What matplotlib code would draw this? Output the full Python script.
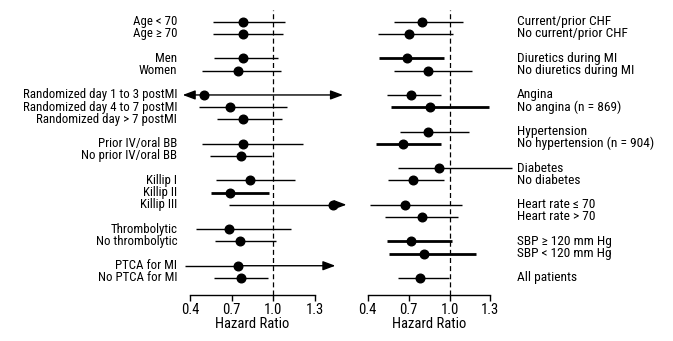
import matplotlib.pyplot as plt
from matplotlib.transforms import blended_transform_factory

plt.rcParams['font.family'] = ['Roboto Condensed', 'DejaVu Sans']

# left panel
left_groups = [
    ["Age < 70", "Age ≥ 70"],
    ["Men", "Women"],
    ["Randomized day 1 to 3 postMI", "Randomized day 4 to 7 postMI", "Randomized day > 7 postMI"],
    ["Prior IV/oral BB", "No prior IV/oral BB"],
    ["Killip I", "Killip II", "Killip III"],
    ["Thrombolytic", "No thrombolytic"],
    ["PTCA for MI", "No PTCA for MI"],
]
left_hr = [0.78, 0.785, 0.78, 0.75, 0.50, 0.69, 0.78, 0.78, 0.77, 0.83, 0.69, 1.43, 0.68, 0.76, 0.75, 0.77]
left_lo = [0.563, 0.563, 0.576, 0.487, 0.347, 0.465, 0.598, 0.487, 0.545, 0.590, 0.552, 0.684, 0.446, 0.581, 0.366, 0.573]
left_hi = [1.083, 1.074, 1.037, 1.055, 1.505, 1.103, 1.063, 1.214, 0.991, 1.156, 0.969, 1.53, 1.127, 1.019, 1.45, 0.966]
left_thick = [0, 0, 0, 0, 0, 0, 0, 0, 0, 0, 1, 0, 0, 0, 0, 0]
left_arrows = ['', '', '', '', '<>', '', '', '', '', '', '', '>', '', '', '>', '']

# right panel
right_groups = [
    ["Current/prior CHF", "No current/prior CHF"],
    ["Diuretics during MI", "No diuretics during MI"],
    ["Angina", "No angina (n = 869)"],
    ["Hypertension", "No hypertension (n = 904)"],
    ["Diabetes", "No diabetes"],
    ["Heart rate ≤ 70", "Heart rate > 70"],
    ["SBP ≥ 120 mm Hg", "SBP < 120 mm Hg"],
    ["All patients"],
]
right_hr = [0.80, 0.70, 0.69, 0.84, 0.72, 0.86, 0.845, 0.66, 0.925, 0.73, 0.67, 0.80, 0.72, 0.81, 0.785]
right_lo = [0.593, 0.478, 0.485, 0.593, 0.544, 0.573, 0.637, 0.461, 0.622, 0.549, 0.417, 0.527, 0.544, 0.556, 0.622]
right_hi = [1.097, 1.024, 0.958, 1.164, 0.938, 1.288, 1.146, 0.938, 1.457, 0.962, 1.09, 1.061, 1.017, 1.193, 0.997]
right_thick = [0, 0, 1, 0, 0, 1, 0, 1, 0, 0, 0, 0, 1, 1, 0]
right_arrows = [''] * 15

ticks = [0.4, 0.7, 1.0, 1.3]


def row_positions(groups):
    ys, y = [], 0
    for g in groups:
        for _ in g:
            ys.append(y)
            y += 1
        y += 1
    return ys


def draw_panel(ax, groups, hr, lo, hi, thick, arrows, side):
    ys = row_positions(groups)
    labels = [lab for g in groups for lab in g]
    ax.axvline(1.0, color='black', lw=0.9, ls=(0, (4, 2.5)), zorder=1)
    for y, h, l, u, t, a, lab in zip(ys, hr, lo, hi, thick, arrows, labels):
        lw = 2.0 if t else 1.0
        ap = dict(arrowstyle='-|>,head_length=0.75,head_width=0.28', color='black',
                  lw=lw, shrinkA=0, shrinkB=0)
        if '<' in a:
            ax.annotate('', xy=(l, y), xytext=(h, y), arrowprops=ap)
        else:
            ax.plot([l, h], [y, y], color='black', lw=lw, solid_capstyle='butt')
        if '>' in a:
            ax.annotate('', xy=(u, y), xytext=(h, y), arrowprops=ap)
        else:
            ax.plot([h, u], [y, y], color='black', lw=lw, solid_capstyle='butt')
        ax.plot(h, y, 'o', color='black', ms=6.2, zorder=3)
        if side == 'left':
            ax.text(0.307, y, lab, ha='right', va='center', fontsize=9.3)
        else:
            ax.text(1.492, y, lab, ha='left', va='center', fontsize=9.6)

    ax.set_xlim(0.3, 1.55)
    ax.set_ylim(22.4, -1)
    for s in ['top', 'left', 'right']:
        ax.spines[s].set_visible(False)
    ax.spines['bottom'].set_bounds(0.4, 1.3)
    ax.spines['bottom'].set_linewidth(1.0)
    ax.set_yticks([])
    ax.set_xticks(ticks)
    ax.set_xticklabels([f'{t:.1f}' for t in ticks], fontsize=10.5)
    ax.tick_params(axis='x', direction='out', length=4, width=1.0, pad=2)
    tr = blended_transform_factory(ax.transData, ax.transAxes)
    ax.text(0.85, -0.103, 'Hazard Ratio', transform=tr, ha='center', va='center', fontsize=10.5)


fig = plt.figure(figsize=(6.73, 3.41), dpi=100)
ax1 = fig.add_axes([0.2618, 0.1349, 0.2571, 0.837])
ax2 = fig.add_axes([0.5262, 0.1349, 0.2531, 0.837])
draw_panel(ax1, left_groups, left_hr, left_lo, left_hi, left_thick, left_arrows, 'left')
draw_panel(ax2, right_groups, right_hr, right_lo, right_hi, right_thick, right_arrows, 'right')

fig.savefig('out.png', dpi=100)
